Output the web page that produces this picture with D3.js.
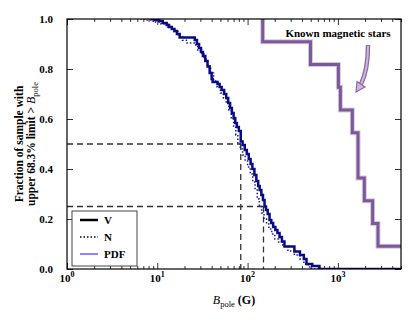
<!DOCTYPE html>
<html>
<head>
<meta charset="utf-8">
<script src="https://cdn.jsdelivr.net/npm/d3@7"></script>
<style>
body { margin: 0; background: #fff; }
svg text { font-family: "Liberation Serif", "Times New Roman", serif; font-weight: bold; }
</style>
</head>
<body>
<div id="chart"></div>
<script>
// V curve (step after)
var vB = [8.5, 9.5, 10.5, 11.5, 12.7, 13.5, 14.5, 15.5, 16.5, 17.7, 26, 27.5, 29, 30.5, 32, 34, 36, 38, 40, 41, 46.5, 49, 51.6, 55, 58, 61, 64, 67, 70, 73, 76, 80, 84, 88, 93, 98, 103, 108, 113, 119, 125, 131, 136, 142, 148, 154, 160, 167, 175, 183, 192, 203, 214, 226, 240, 256, 330, 380, 420, 449, 520, 625, 5000];
var vF = [1, 0.996, 0.992, 0.984, 0.976, 0.968, 0.96, 0.952, 0.94, 0.926, 0.916, 0.9, 0.884, 0.868, 0.852, 0.832, 0.81, 0.784, 0.76, 0.748, 0.74, 0.728, 0.716, 0.7, 0.684, 0.664, 0.644, 0.624, 0.604, 0.584, 0.568, 0.552, 0.51, 0.496, 0.476, 0.46, 0.44, 0.42, 0.4, 0.376, 0.352, 0.332, 0.316, 0.296, 0.276, 0.25, 0.236, 0.22, 0.196, 0.184, 0.168, 0.156, 0.144, 0.128, 0.11, 0.09, 0.07, 0.056, 0.04, 0.02, 0.012, 0, 0];

// N curve (dotted)
var nB = [6.5, 7.3, 9, 11, 13, 15, 17, 19, 21, 26, 28, 30, 33, 36, 39, 42, 46, 50, 54, 58, 62, 66, 70, 74, 78, 83, 88, 94, 100, 107, 114, 121, 128, 135, 143, 152, 162, 172, 185, 200, 220, 245, 280, 330, 380, 420, 470, 510, 5000];
var nF = [1, 0.996, 0.988, 0.98, 0.968, 0.95, 0.93, 0.915, 0.904, 0.896, 0.876, 0.864, 0.84, 0.812, 0.784, 0.752, 0.728, 0.704, 0.684, 0.664, 0.636, 0.6, 0.568, 0.536, 0.5, 0.48, 0.456, 0.432, 0.408, 0.38, 0.348, 0.316, 0.28, 0.25, 0.224, 0.2, 0.18, 0.16, 0.14, 0.12, 0.108, 0.092, 0.072, 0.056, 0.04, 0.02, 0.008, 0, 0];

// known magnetic stars
var magB = [147, 147, 497, 1013, 1066, 1445, 1671, 1963, 2425, 2780, 5000];
var magF = [1, 0.909, 0.818, 0.727, 0.636, 0.545, 0.364, 0.273, 0.182, 0.091, 0.091];

// dashed guides (median and quartile)
var guideF = [0.5, 0.25];
var guideB = [84, 150];

var xTicks = [1, 10, 100, 1000];
var yTicks = [0, 0.2, 0.4, 0.6, 0.8, 1.0];
var legendNames = ["V", "N", "PDF"];

var W = 415, H = 332;
var L = 67, R = 401, T = 19, B = 269;

var x = d3.scaleLog().domain([1, 5000]).range([L, R]);
var y = d3.scaleLinear().domain([0, 1]).range([B, T]);

var svg = d3.select("#chart").append("svg")
    .attr("width", W)
    .attr("height", H);

svg.append("defs").append("clipPath")
    .attr("id", "clip")
    .append("rect")
    .attr("x", L).attr("y", T)
    .attr("width", R - L).attr("height", B - T);

// minor ticks on log axis
var minors = [];
for (var d = 1; d <= 1000; d *= 10) {
    for (var k = 2; k <= 9; k++) {
        if (d * k <= 5000) minors.push(d * k);
    }
}

function styleAxis(g) {
    g.select(".domain").remove();
    g.selectAll(".tick line").attr("stroke", "#000").attr("stroke-width", 0.8);
}

svg.append("g").attr("transform", "translate(0," + B + ")")
    .call(d3.axisBottom(x).tickValues(xTicks).tickSize(-6).tickFormat(""))
    .call(styleAxis);
svg.append("g").attr("transform", "translate(0," + B + ")")
    .call(d3.axisBottom(x).tickValues(minors).tickSize(-3).tickFormat(""))
    .call(styleAxis);
svg.append("g").attr("transform", "translate(0," + T + ")")
    .call(d3.axisTop(x).tickValues(xTicks).tickSize(-6).tickFormat(""))
    .call(styleAxis);
svg.append("g").attr("transform", "translate(0," + T + ")")
    .call(d3.axisTop(x).tickValues(minors).tickSize(-3).tickFormat(""))
    .call(styleAxis);

var yAx = svg.append("g").attr("transform", "translate(" + L + ",0)")
    .call(d3.axisLeft(y).tickValues(yTicks).tickSize(-6).tickPadding(14).tickFormat(d3.format(".1f")))
    .call(styleAxis);
yAx.selectAll("text").attr("font-size", 11).attr("fill", "#000")
    .style("font-family", "'Liberation Serif', serif").style("font-weight", "bold");

svg.append("g").attr("transform", "translate(" + R + ",0)")
    .call(d3.axisRight(y).tickValues(yTicks).tickSize(-6).tickFormat(""))
    .call(styleAxis);

// x tick labels 10^n
var xl = svg.append("g").selectAll("text")
    .data(xTicks)
    .enter().append("text")
    .attr("x", function (d) { return x(d); })
    .attr("y", B + 13)
    .attr("text-anchor", "middle")
    .attr("font-size", 11);
xl.append("tspan").text("10");
xl.append("tspan").attr("dy", -5).attr("font-size", 8)
    .text(function (d) { return Math.round(Math.log10(d)); });

// dashed guides
var gd = svg.append("g").attr("stroke", "#333").attr("stroke-width", 1.3)
    .attr("stroke-dasharray", "6,4").attr("fill", "none");
guideF.forEach(function (f, i) {
    gd.append("line")
        .attr("x1", x(1)).attr("x2", x(guideB[i]))
        .attr("y1", y(f)).attr("y2", y(f));
    gd.append("line")
        .attr("x1", x(guideB[i])).attr("x2", x(guideB[i]))
        .attr("y1", y(f)).attr("y2", y(0));
});

var line = d3.line()
    .x(function (d) { return x(d[0]); })
    .y(function (d) { return y(d[1]); })
    .curve(d3.curveStepAfter);

var plot = svg.append("g").attr("clip-path", "url(#clip)");

var magData = magB.map(function (b, i) { return [b, magF[i]]; });
plot.append("path").datum(magData)
    .attr("d", line).attr("fill", "none")
    .attr("stroke", "#cfcfcf").attr("stroke-width", 5);
plot.append("path").datum(magData)
    .attr("d", line).attr("fill", "none")
    .attr("stroke", "#7f55a0").attr("stroke-width", 3);

var nData = nB.map(function (b, i) { return [b, nF[i]]; });
plot.append("path").datum(nData)
    .attr("d", line).attr("fill", "none")
    .attr("stroke", "#1a1a9a").attr("stroke-width", 1.5)
    .attr("stroke-dasharray", "1.5,2");

var vData = vB.map(function (b, i) { return [b, vF[i]]; });
plot.append("path").datum(vData)
    .attr("d", line).attr("fill", "none")
    .attr("stroke", "#0a0a82").attr("stroke-width", 2.5);

// frame
svg.append("rect")
    .attr("x", L).attr("y", T)
    .attr("width", R - L).attr("height", B - T)
    .attr("fill", "none").attr("stroke", "#000").attr("stroke-width", 1.2);

// annotation
svg.append("text")
    .attr("x", 338).attr("y", 37)
    .attr("text-anchor", "middle")
    .attr("font-size", 11)
    .text("Known magnetic stars");

svg.append("path")
    .attr("d", "M368,45 C368,62 366,74 361,84")
    .attr("fill", "none").attr("stroke", "#8b68a3").attr("stroke-width", 4.5);
svg.append("path")
    .attr("d", "M368,46 C368,62 366,74 361,84")
    .attr("fill", "none").attr("stroke", "#cdb5dc").attr("stroke-width", 2);
svg.append("path")
    .attr("d", "M356,92 L365,87 L357,81.5 Z")
    .attr("fill", "#cdb5dc").attr("stroke", "#8b68a3").attr("stroke-width", 1.2);

// legend
var lg = svg.append("g");
lg.append("rect")
    .attr("x", 72).attr("y", 211).attr("width", 65).attr("height", 55)
    .attr("fill", "#fff").attr("stroke", "#444").attr("stroke-width", 1);
var lstyle = [
    { c: "#000", w: 2.5, dash: null },
    { c: "#000", w: 1.5, dash: "1.5,2" },
    { c: "#3a3aff", w: 1.2, dash: null }
];
legendNames.forEach(function (nm, i) {
    var yy = 220 + i * 17;
    lg.append("line")
        .attr("x1", 80).attr("x2", 98).attr("y1", yy).attr("y2", yy)
        .attr("stroke", lstyle[i].c).attr("stroke-width", lstyle[i].w)
        .attr("stroke-dasharray", lstyle[i].dash);
    lg.append("text")
        .attr("x", 104).attr("y", yy + 4)
        .attr("font-size", 11)
        .text(nm);
});

// axis titles
var xt = svg.append("text")
    .attr("x", (L + R) / 2).attr("y", 304)
    .attr("text-anchor", "middle")
    .attr("font-size", 12);
xt.append("tspan").attr("font-style", "italic").style("font-weight", "normal").text("B");
xt.append("tspan").attr("font-size", 8.5).attr("dy", 3).style("font-weight", "normal").text("pole");
xt.append("tspan").attr("dy", -3).text(" (G)");

var yt = svg.append("g").attr("transform", "translate(23," + ((T + B) / 2) + ") rotate(-90)");
yt.append("text")
    .attr("x", 0).attr("y", 0)
    .attr("text-anchor", "middle")
    .attr("font-size", 11.5)
    .text("Fraction of sample with");
var y2 = yt.append("text")
    .attr("x", 0).attr("y", 12)
    .attr("text-anchor", "middle")
    .attr("font-size", 11.5);
y2.append("tspan").text("upper 68.3% limit > ");
y2.append("tspan").attr("font-style", "italic").style("font-weight", "normal").attr("font-size", 12).text("B");
y2.append("tspan").attr("font-size", 8.5).attr("dy", 3).style("font-weight", "normal").text("pole");
</script>
</body>
</html>
